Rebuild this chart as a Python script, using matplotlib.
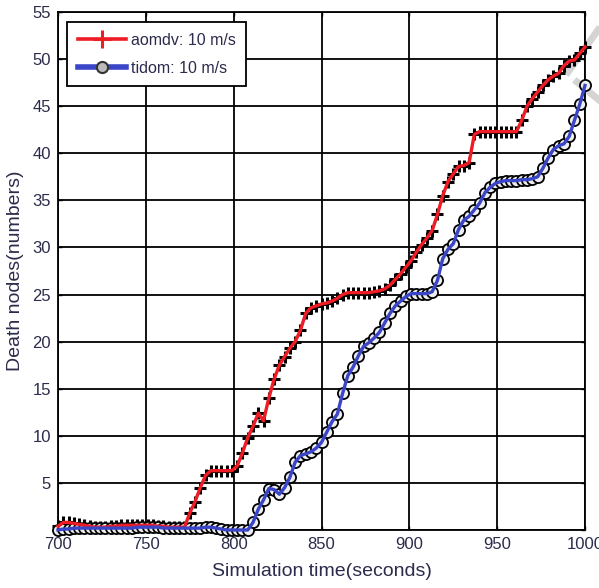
import numpy as np
import matplotlib.pyplot as plt
from matplotlib.lines import Line2D

plt.rcParams['font.family'] = ['Liberation Sans Narrow', 'Liberation Sans', 'DejaVu Sans']

# simulation time, sampled every 3 seconds
time_s = np.arange(700, 1001, 3)

# dead nodes, aomdv at 10 m/s
aomdv = [0.4, 0.8, 0.8, 0.7, 0.6, 0.5, 0.4, 0.3, 0.3, 0.3,
         0.4, 0.4, 0.5, 0.5, 0.5, 0.5, 0.5, 0.5, 0.5, 0.4,
         0.4, 0.3, 0.3, 0.3, 0.3, 1.8, 3.0, 4.5, 5.8, 6.3,
         6.3, 6.3, 6.3, 6.3, 6.8, 8.2, 9.8, 11.0, 12.4, 11.6,
         14.0, 16.0, 17.5, 18.4, 19.3, 20.0, 21.2, 23.0, 23.6, 23.8,
         24.0, 24.1, 24.3, 24.6, 25.0, 25.2, 25.2, 25.2, 25.2, 25.2,
         25.3, 25.4, 25.6, 26.0, 26.6, 27.2, 27.9, 28.6, 29.5, 30.3,
         31.0, 31.8, 33.5, 35.5, 37.0, 37.8, 38.6, 38.7, 39.0, 42.0,
         42.3, 42.3, 42.3, 42.3, 42.3, 42.3, 42.3, 42.3, 43.5, 45.0,
         45.8, 46.5, 47.2, 47.8, 48.2, 48.5, 49.3, 49.8, 49.9, 50.6,
         51.3]

# dead nodes, tidom at 10 m/s
tidom = [0.0, 0.1, 0.1, 0.2, 0.2, 0.2, 0.2, 0.2, 0.2, 0.2,
         0.2, 0.2, 0.2, 0.2, 0.2, 0.3, 0.3, 0.3, 0.3, 0.3,
         0.2, 0.2, 0.2, 0.2, 0.2, 0.2, 0.2, 0.2, 0.3, 0.3,
         0.2, 0.1, 0.0, 0.0, 0.0, 0.0, 0.0, 0.8, 2.2, 3.2,
         4.4, 4.3, 3.8, 4.5, 5.6, 7.2, 7.9, 8.1, 8.3, 8.7,
         9.3, 10.4, 11.5, 12.3, 14.5, 16.4, 17.3, 18.5, 19.5, 19.9,
         20.4, 21.0, 22.0, 23.0, 23.8, 24.3, 24.8, 25.1, 25.1, 25.1,
         25.1, 25.3, 26.5, 28.8, 29.8, 30.4, 31.9, 32.9, 33.3, 34.0,
         34.7, 35.8, 36.4, 36.8, 37.0, 37.1, 37.1, 37.1, 37.2, 37.2,
         37.3, 37.5, 38.4, 39.5, 40.4, 40.8, 41.0, 41.8, 43.5, 45.2,
         47.2]

x_ticks = [700, 750, 800, 850, 900, 950, 1000]
y_ticks = [0, 5, 10, 15, 20, 25, 30, 35, 40, 45, 50, 55]

txt_color = '#2b2b4b'

fig = plt.figure(figsize=(5.99, 5.88), dpi=100)
ax = fig.add_axes([58 / 599, 58 / 588, 527 / 599, 518 / 588])
ax.patch.set_alpha(0)

# light grey stroke across the top right corner, behind everything
fig.add_artist(Line2D([598 / 599, 568 / 599], [1 - 30 / 588, 1 - 72 / 588],
                      color='#d4d4d4', linewidth=5, zorder=-1))
fig.add_artist(Line2D([577 / 599, 599 / 599], [1 - 82 / 588, 1 - 100 / 588],
                      color='#d4d4d4', linewidth=5, zorder=-1))

# black sample markers underneath, coloured curves on top
ax.plot(time_s, aomdv, linestyle='none', marker='+', color='black',
        markersize=9, markeredgewidth=2.2, zorder=3, clip_on=False)
ax.plot(time_s, tidom, linestyle='none', marker='o', markerfacecolor='#eeeeee',
        markeredgecolor='black', markersize=8, markeredgewidth=1.3, zorder=3,
        clip_on=False)
ax.plot(time_s, aomdv, color='#ee1c24', linewidth=2.4, zorder=4, clip_on=False)
ax.plot(time_s, tidom, color='#3a45c8', linewidth=2.4, zorder=4, clip_on=False)

ax.set_xlim(700, 1000)
ax.set_ylim(0, 55)
ax.set_xticks(x_ticks)
ax.set_yticks(y_ticks)
ax.set_yticklabels([''] + [str(v) for v in y_ticks[1:]])
ax.tick_params(direction='in', length=3, width=1, colors='black',
               labelcolor=txt_color, labelsize=12, top=True, right=True, pad=5)
ax.grid(True, color='black', linewidth=1.3, linestyle='-')
ax.set_axisbelow(True)
for sp in ax.spines.values():
    sp.set_linewidth(1.3)

ax.set_xlabel('Simulation time(seconds)', fontsize=14, color=txt_color, labelpad=8)
ax.set_ylabel('Death nodes(numbers)', fontsize=14, color=txt_color, labelpad=6)

handles = [
    Line2D([], [], color='#ee1c24', linewidth=2.6, marker='+', markersize=13,
           markeredgewidth=2.2, markeredgecolor='#ee1c24'),
    Line2D([], [], color='#3a45c8', linewidth=4, marker='o', markersize=8,
           markerfacecolor='#bbbbbb', markeredgecolor='#333333', markeredgewidth=1.5),
]
leg = ax.legend(handles, ['aomdv: 10 m/s', 'tidom: 10 m/s'], loc='upper left',
                bbox_to_anchor=(0.018, 0.98), fontsize=11.5, fancybox=False,
                framealpha=1, edgecolor='black', handlelength=3.0,
                borderpad=0.65, labelspacing=0.8, handletextpad=0.3,
                borderaxespad=0.0)
leg.get_frame().set_linewidth(1.3)
for t in leg.get_texts():
    t.set_color(txt_color)

fig.savefig('out.png', dpi=100)
